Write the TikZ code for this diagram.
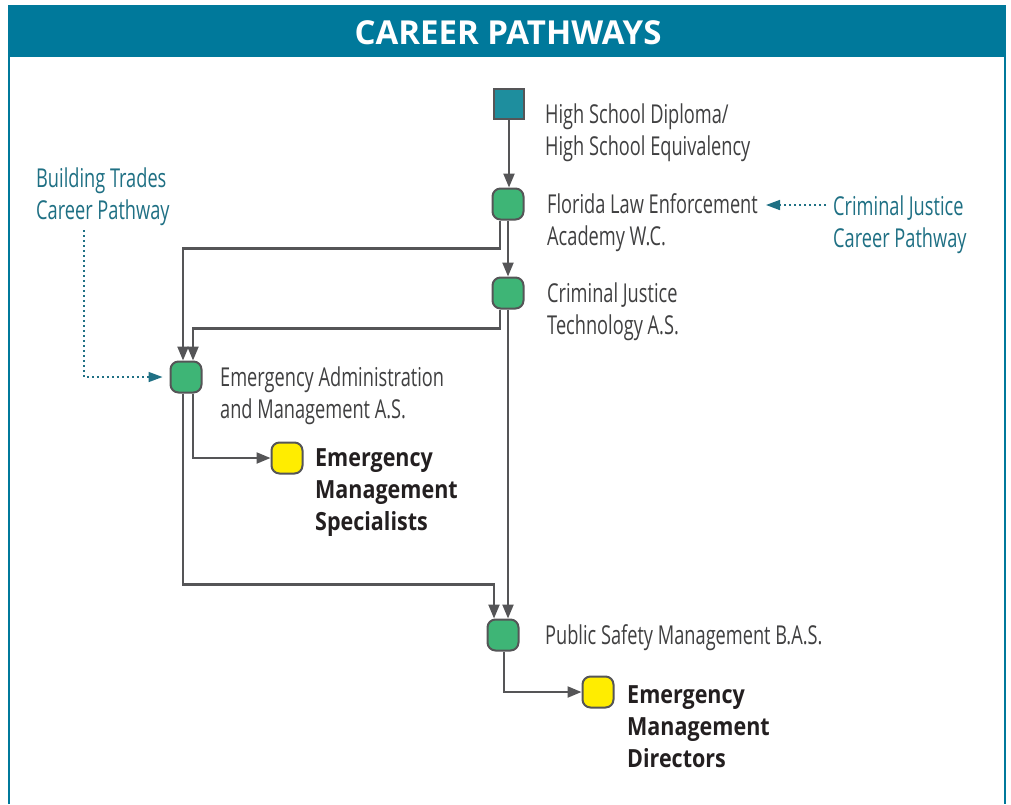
\documentclass[tikz,border=0pt]{standalone}
\usepackage{fontspec}
\setmainfont{Open Sans}
\newfontfamily\condfont[FakeStretch=0.70]{Open Sans}
\newfontfamily\condbold[FakeStretch=0.86]{Open Sans}
\newfontfamily\titlefont{Open Sans}
\usetikzlibrary{arrows.meta}
\definecolor{hdrblue}{RGB}{0,121,155}
\definecolor{sqteal}{RGB}{30,142,158}
\definecolor{boxgreen}{RGB}{62,181,118}
\definecolor{boxyellow}{RGB}{255,237,0}
\definecolor{linegray}{RGB}{85,85,87}
\definecolor{txtgray}{RGB}{64,64,65}
\definecolor{txtdark}{RGB}{35,31,32}
\definecolor{pathteal}{RGB}{31,112,132}
\tikzset{
  gbox/.style={draw=linegray, line width=2pt, fill=boxgreen, rounded corners=8pt, minimum size=31pt, inner sep=0pt},
  ybox/.style={gbox, fill=boxyellow},
  sqbox/.style={draw=linegray, line width=2pt, fill=sqteal, minimum size=30pt, inner sep=0pt},
  lbl/.style={anchor=west, inner sep=0pt, align=left, text=txtgray, font=\condfont\fontsize{26}{32}\selectfont},
  blbl/.style={anchor=west, inner sep=0pt, align=left, text=txtdark, font=\condbold\bfseries\fontsize{25}{32}\selectfont},
  plbl/.style={anchor=west, inner sep=0pt, align=left, text=pathteal, font=\condfont\fontsize{26}{32}\selectfont},
  conn/.style={draw=linegray, line width=2.2pt, -{Triangle[length=14pt,width=11pt]}},
  dotconn/.style={draw=pathteal, line width=1.6pt, dash pattern=on 1.6pt off 3.4pt, -{Triangle[length=14pt,width=10pt]}},
}
\begin{document}
\begin{tikzpicture}[x=1pt,y=-1pt]
\useasboundingbox (0,0) rectangle (1011,804);
\fill[white] (0,0) rectangle (1011,804);
\draw[hdrblue, line width=2pt] (9,804) -- (9,6) -- (1005,6) -- (1005,804);
\fill[hdrblue] (8,5) rectangle (1006,57);
\node[text=white, font=\titlefont\bfseries\fontsize{33}{38}\selectfont, inner sep=0pt] (title) at (508,33) {CAREER PATHWAYS};

% boxes
\node[sqbox] (hs) at (509,104) {};
\node[gbox] (fl) at (508,204) {};
\node[gbox] (cj) at (508,293) {};
\node[gbox] (ea) at (186,377) {};
\node[ybox] (es) at (287,458) {};
\node[gbox] (ps) at (503,635) {};
\node[ybox] (ed) at (598,692) {};

% labels
\node[lbl] (hsl) at (545,133) {High School Diploma/\\High School Equivalency};
\node[lbl] (fll) at (547,223) {Florida Law Enforcement\\Academy W.C.};
\node[lbl] (cjl) at (547,312) {Criminal Justice\\Technology A.S.};
\node[lbl] (eal) at (220,396) {Emergency Administration\\and Management A.S.};
\node[blbl] (esl) at (315,493) {Emergency\\Management\\Specialists};
\node[lbl] (psl) at (545,638) {Public Safety Management B.A.S.};
\node[blbl] (edl) at (627,727) {Emergency\\Management\\Directors};
\node[plbl] (btl) at (36,197) {Building Trades\\Career Pathway};
\node[plbl] (cjpl) at (833,225) {Criminal Justice\\Career Pathway};

% connectors
\draw[conn] (hs.south) -- (hs.south |- fl.north);
\draw[conn] (fl.south) -- (fl.south |- cj.north);
\draw[conn] ([xshift=-8pt]fl.south) -- ++(0,28) -| ([xshift=-3pt]ea.north);
\draw[conn] ([xshift=-8pt]cj.south) -- ++(0,19) -| ([xshift=7pt]ea.north);
\draw[conn] (cj.south) -- (cj.south |- ps.north);
\draw[conn] ([xshift=-3pt]ea.south) -- ++(0,191) -| ([xshift=-9pt]ps.north);
\draw[conn] ([xshift=7pt]ea.south) |- (es.west);
\draw[conn] ([xshift=1pt]ps.south) |- (ed.west);

% dotted pathways
\coordinate (btstart) at (84,230);
\draw[dotconn] (btstart) |- ([xshift=-7pt]ea.west);
\coordinate (cjstart) at (826,205);
\coordinate (flend) at (766,205);
\draw[dotconn] (cjstart) -- (flend);
\end{tikzpicture}
\end{document}
